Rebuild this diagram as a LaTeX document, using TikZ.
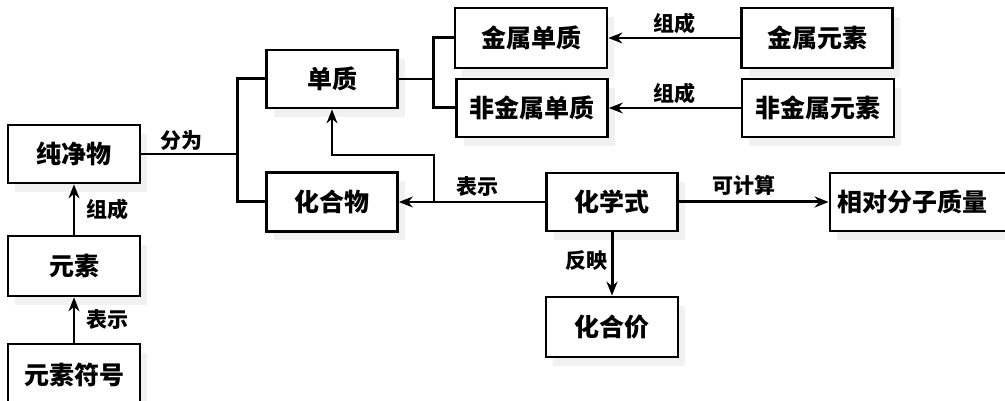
\documentclass[tikz,border=0pt]{standalone}
\usepackage{fontspec}
\newfontfamily\cjk{Noto Sans CJK SC}
\usetikzlibrary{arrows.meta,positioning,calc,shadows}

\tikzset{
  box/.style={draw, line width=2.8pt, fill=white, minimum height=58pt, inner sep=0pt,
    font=\cjk\bfseries\fontsize{25}{25}\selectfont,
    drop shadow={shadow xshift=7pt, shadow yshift=-9pt, fill=black!11, draw=none}},
  lbl/.style={font=\cjk\bfseries\fontsize{21}{21}\selectfont, inner sep=3pt},
  conn/.style={line width=1.4pt},
  bold/.style={line width=3pt},
  arr/.style={-{Stealth[length=14pt,width=11pt]}}
}

\begin{document}
\begin{tikzpicture}[x=1pt,y=-1pt]
\useasboundingbox (0,0) rectangle (1005,401);
% boxes
\node[box, minimum width=132pt] (chun) at (74,154) {纯净物};
\node[box, minimum width=132pt, minimum height=60pt] (yuansu) at (74,266) {元素};
\node[box, minimum width=132pt, minimum height=62pt] (fuhao) at (74,375) {元素符号};
\node[box, minimum width=131pt] (danzhi) at (332,79) {单质};
\node[box, minimum width=131pt, minimum height=59pt] (huahewu) at (332,202) {化合物};
\node[box, minimum width=152pt, minimum height=60pt] (jsdz) at (531,38) {金属单质};
\node[box, minimum width=151pt] (fjsdz) at (532,108) {非金属单质};
\node[box, minimum width=151pt, minimum height=60pt] (jsys) at (817,38) {金属元素};
\node[box, minimum width=152pt] (fjsys) at (818,108) {非金属元素};
\node[box, minimum width=131pt] (hxs) at (612,202) {化学式};
\node[box, minimum width=132pt, minimum height=60pt] (hhj) at (612,327) {化合价};
\node[box, minimum width=200pt, text width=186pt, align=left] (xdfz) at (930,202) {相对分子质量};

% connectors
\coordinate (fork) at (237,154);
\coordinate (fork2) at (433,79);
\coordinate (br) at (434,202);
\coordinate (bend) at (434,155);
\draw[conn] (chun.east) -- node[lbl, above, xshift=-8pt] (l1) {分为} (fork);
\draw[bold] (danzhi.west) -| (fork) |- (huahewu.west);
\draw[conn] (danzhi.east) -- (fork2);
\draw[bold] (jsdz.west) -| (fork2) |- (fjsdz.west);
\draw[conn, arr] (jsys.west) -- node[lbl, above] (l4) {组成} (jsdz.east);
\draw[conn, arr] (fjsys.west) -- node[lbl, above] (l5) {组成} (fjsdz.east);
\draw[conn, arr] (hxs.west) -- node[lbl, above, xshift=5pt, yshift=2pt] (l6) {表示} (huahewu.east);
\draw[conn, arr] (br) -- (bend) -| (danzhi.south);
\draw[bold, arr] (hxs.east) -- node[lbl, above, xshift=-10pt, yshift=2pt] (l7) {可计算} (xdfz.west);
\draw[bold, arr] (hxs.south) -- node[lbl, left, yshift=3pt] (l8) {反映} (hhj.north);
\draw[conn, arr] (yuansu.north) -- node[lbl, right=9pt] (l2) {组成} (chun.south);
\draw[conn, arr] (fuhao.north) -- node[lbl, right=9pt] (l3) {表示} (yuansu.south);
\end{tikzpicture}
\end{document}
